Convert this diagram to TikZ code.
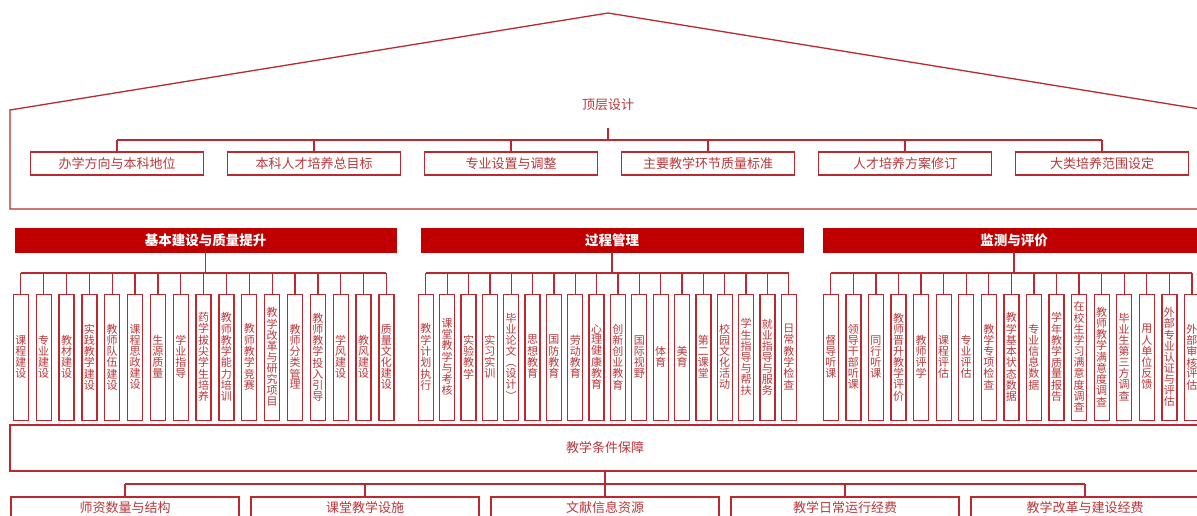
\documentclass[tikz,border=0pt]{standalone}
\usepackage{fontspec}
\setmainfont{Noto Sans CJK SC}
\definecolor{lc}{RGB}{188,40,48}
\definecolor{bf}{RGB}{192,0,0}
\definecolor{tc}{RGB}{185,55,58}
\makeatletter
\newcommand\vtxt[1]{\vbox{\offinterlineskip\@tfor\vt@c:=#1\do{\hbox to 12pt{\hss\rule[-2pt]{0pt}{10.7pt}\vt@c\hss}}}}
\makeatother
\begin{document}
\begin{tikzpicture}[x=1pt,y=-1pt,
  ln/.style={draw=lc,line width=1.3pt},
  hbox/.style={draw=lc,line width=1.3pt,inner sep=0pt,text=tc,font=\fontsize{13}{15}\selectfont},
  ttl/.style={inner sep=0pt,text=tc,font=\fontsize{13}{15}\selectfont},
  ban/.style={fill=bf,draw=bf,inner sep=0pt,minimum height=24pt,text=white,font=\fontsize{13.5}{15}\selectfont\bfseries},
  vb/.style={draw=lc,line width=1.3pt,inner sep=0pt,minimum width=15pt,minimum height=126pt,text=tc,font=\fontsize{11}{10.7}\selectfont}]
\useasboundingbox (0,0) rectangle (1197,515);
\clip (0,0) rectangle (1197,515);
\fill[white] (0,0) rectangle (1197,515);
% top roof
\draw[ln] (10,209) -- (10,110) -- (608,13) -- (1206,110) -- (1206,209) -- cycle;
\node[ttl] (top) at (608,104.5) {顶层设计};
\coordinate (tstem) at (608,128);
\coordinate (tbus) at (608,140);
\foreach \t [count=\i] in {办学方向与本科地位,本科人才培养总目标,专业设置与调整,主要教学环节质量标准,人才培养方案修订,大类培养范围设定}
  \node[hbox,minimum width=173pt,minimum height=23pt] (t\i) at ({117+197*(\i-1)},163.5) {\t};
\draw[ln] (tstem) -- (tbus);
\draw[ln] (t1.north |- tbus) -- (t6.north |- tbus);
\foreach \i in {1,...,6} \draw[ln] (t\i.north) -- (t\i.north |- tbus);
% banners
\node[ban,minimum width=381pt] (A) at (205.5,240) {基本建设与质量提升};
\node[ban,minimum width=382pt] (B) at (612,240) {过程管理};
\node[ban,minimum width=382pt] (C) at (1014,240) {监测与评价};
\coordinate (busA) at (205.5,273);
\coordinate (busB) at (612,273);
\coordinate (busC) at (1014,273);
% section A
\foreach \t [count=\i] in {课程建设,专业建设,教材建设,实践教学建设,教师队伍建设,课程思政建设,生源质量,学业指导,药学拔尖学生培养,教师教学能力培训,教师教学竞赛,教学改革与研究项目,教师分类管理,教师教学投入引导,学风建设,教风建设,质量文化建设}
  \node[vb] (a\i) at ({20.8+22.85*(\i-1)},357.5) {\expandafter\vtxt\expandafter{\t}};
\draw[ln] (A.south) -- (busA);
\draw[ln] (a1.north |- busA) -- (a17.north |- busA);
\foreach \i in {1,...,17} \draw[ln] (a\i.north) -- (a\i.north |- busA);
% section B
\foreach \t [count=\i] in {教学计划执行,课堂教学与考核,实验教学,实习实训,毕业论文︵设计︶,思想教育,国防教育,劳动教育,心理健康教育,创新创业教育,国际视野,体育,美育,第二课堂,校园文化活动,学生指导与帮扶,就业指导与服务,日常教学检查}
  \node[vb] (b\i) at ({425.8+21.35*(\i-1)},357.5) {\expandafter\vtxt\expandafter{\t}};
\draw[ln] (B.south) -- (busB);
\draw[ln] (b1.north |- busB) -- (b18.north |- busB);
\foreach \i in {1,...,18} \draw[ln] (b\i.north) -- (b\i.north |- busB);
% section C
\foreach \t [count=\i] in {督导听课,领导干部听课,同行听课,教师晋升教学评价,教师评学,课程评估,专业评估,教学专项检查,教学基本状态数据,专业信息数据,学年教学质量报告,在校生学习满意度调查,教师教学满意度调查,毕业生第三方调查,用人单位反馈,外部专业认证与评估,外部审核评估}
  \node[vb] (c\i) at ({830.8+22.57*(\i-1)},357.5) {\expandafter\vtxt\expandafter{\t}};
\draw[ln] (C.south) -- (busC);
\draw[ln] (c1.north |- busC) -- (c17.north |- busC);
\foreach \i in {1,...,17} \draw[ln] (c\i.north) -- (c\i.north |- busC);
% condition
\node[hbox,minimum width=1190pt,minimum height=46pt] (cond) at (605,448) {教学条件保障};
\coordinate (bbus) at (605,484);
\foreach \t [count=\i] in {师资数量与结构,课堂教学设施,文献信息资源,教学日常运行经费,教学改革与建设经费}
  \node[hbox,minimum width=228pt,minimum height=22pt] (d\i) at ({125+240*(\i-1)},508) {\t};
\draw[ln] (cond.south) -- (d3.north);
\draw[ln] (d1.north |- bbus) -- (d5.north |- bbus);
\foreach \i in {1,...,5} \draw[ln] (d\i.north) -- (d\i.north |- bbus);
\end{tikzpicture}
\end{document}
